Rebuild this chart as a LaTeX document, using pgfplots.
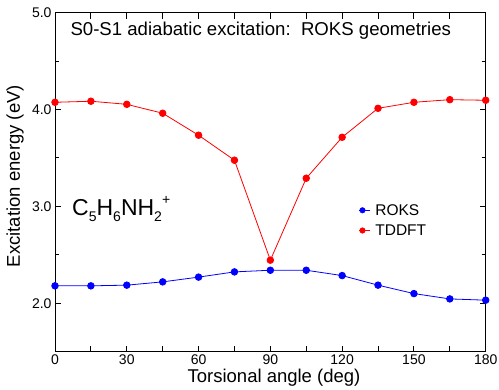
\documentclass[border=0pt]{standalone}
\usepackage{fontspec}
\setmainfont{Liberation Sans}
\usepackage{pgfplots}
\pgfplotsset{compat=1.18}
\newcommand\subs[1]{\raisebox{-6.7bp}{\fontsize{14bp}{14bp}\selectfont #1}}
\newcommand\sups[1]{\raisebox{11bp}{\fontsize{14bp}{14bp}\selectfont #1}}
\newcommand\legf{\fontsize{15.5bp}{17bp}\selectfont}
\begin{document}
\begin{tikzpicture}
\begin{axis}[
  scale only axis, width=430.7bp, height=339bp,
  xmin=0, xmax=180, ymin=1.5, ymax=5.0,
  clip=false,
  xtick={0,15,...,180},
  xticklabels={0,,30,,60,,90,,120,,150,,180},
  ytick={2,3,4,5}, minor ytick={1.5,2.5,3.5,4.5},
  yticklabel style={/pgf/number format/.cd, fixed, fixed zerofill, precision=1},
  /pgf/number format/assume math mode=true,
  tick align=inside, major tick length=6bp, minor tick length=4bp,
  axis line style={line width=1bp},
  every tick/.style={line width=1bp, black},
  tick label style={font=\fontsize{14bp}{16bp}\selectfont},
  xlabel={Torsional angle (deg)},
  ylabel={Excitation energy (eV)},
  label style={font=\fontsize{18.5bp}{20bp}\selectfont},
  xlabel style={at={(axis description cs:0.5085,-0.0923)}, anchor=base},
  ylabel style={at={(axis description cs:-0.0929,0.518)}, anchor=center},
  legend image code/.code={\draw[#1] plot coordinates {(0bp,0bp)}; \path (-3bp,0bp) -- (8bp,0bp);},
  legend style={draw=none, fill=none, inner sep=0pt,
    at={(axis description cs:0.706,0.4475)}, anchor=north west,
    nodes={text height=10.8bp, text depth=0bp, inner sep=4.7bp},
    row sep=0bp},
  legend cell align=left,
]
\addplot[blue, line width=0.8bp, mark=*, mark size=3.3bp, mark options={solid}, forget plot] coordinates {
(0,2.180)(15,2.180)(30,2.187)(45,2.221)(60,2.270)(75,2.324)(90,2.341)(105,2.341)(120,2.286)(135,2.187)(150,2.100)(165,2.045)(180,2.032)};
\addplot[red, line width=0.8bp, mark=*, mark size=3.3bp, mark options={solid}, forget plot] coordinates {
(0,4.075)(15,4.086)(30,4.054)(45,3.962)(60,3.735)(75,3.477)(90,2.445)(105,3.291)(120,3.714)(135,4.013)(150,4.075)(165,4.102)(180,4.096)};
\addlegendimage{only marks, mark=*, mark size=2.8bp, blue}
\addlegendentry{\legf ROKS}
\addlegendimage{only marks, mark=*, mark size=2.8bp, red}
\addlegendentry{\legf TDDFT}
\node[anchor=base west, font=\fontsize{18.6bp}{20bp}\selectfont] at (axis description cs:0.0279,0.934) {S0-S1 adiabatic excitation:\ \ ROKS geometries};
\node[anchor=base west, font=\fontsize{23bp}{25bp}\selectfont, inner sep=0pt] at (axis description cs:0.0395,0.403) {C\subs{5}H\subs{6}NH\subs{2}\sups{+}};
\end{axis}
\pgfresetboundingbox
\path (-55bp,-38.3bp) rectangle (444bp,351.7bp);
\end{tikzpicture}
\end{document}
